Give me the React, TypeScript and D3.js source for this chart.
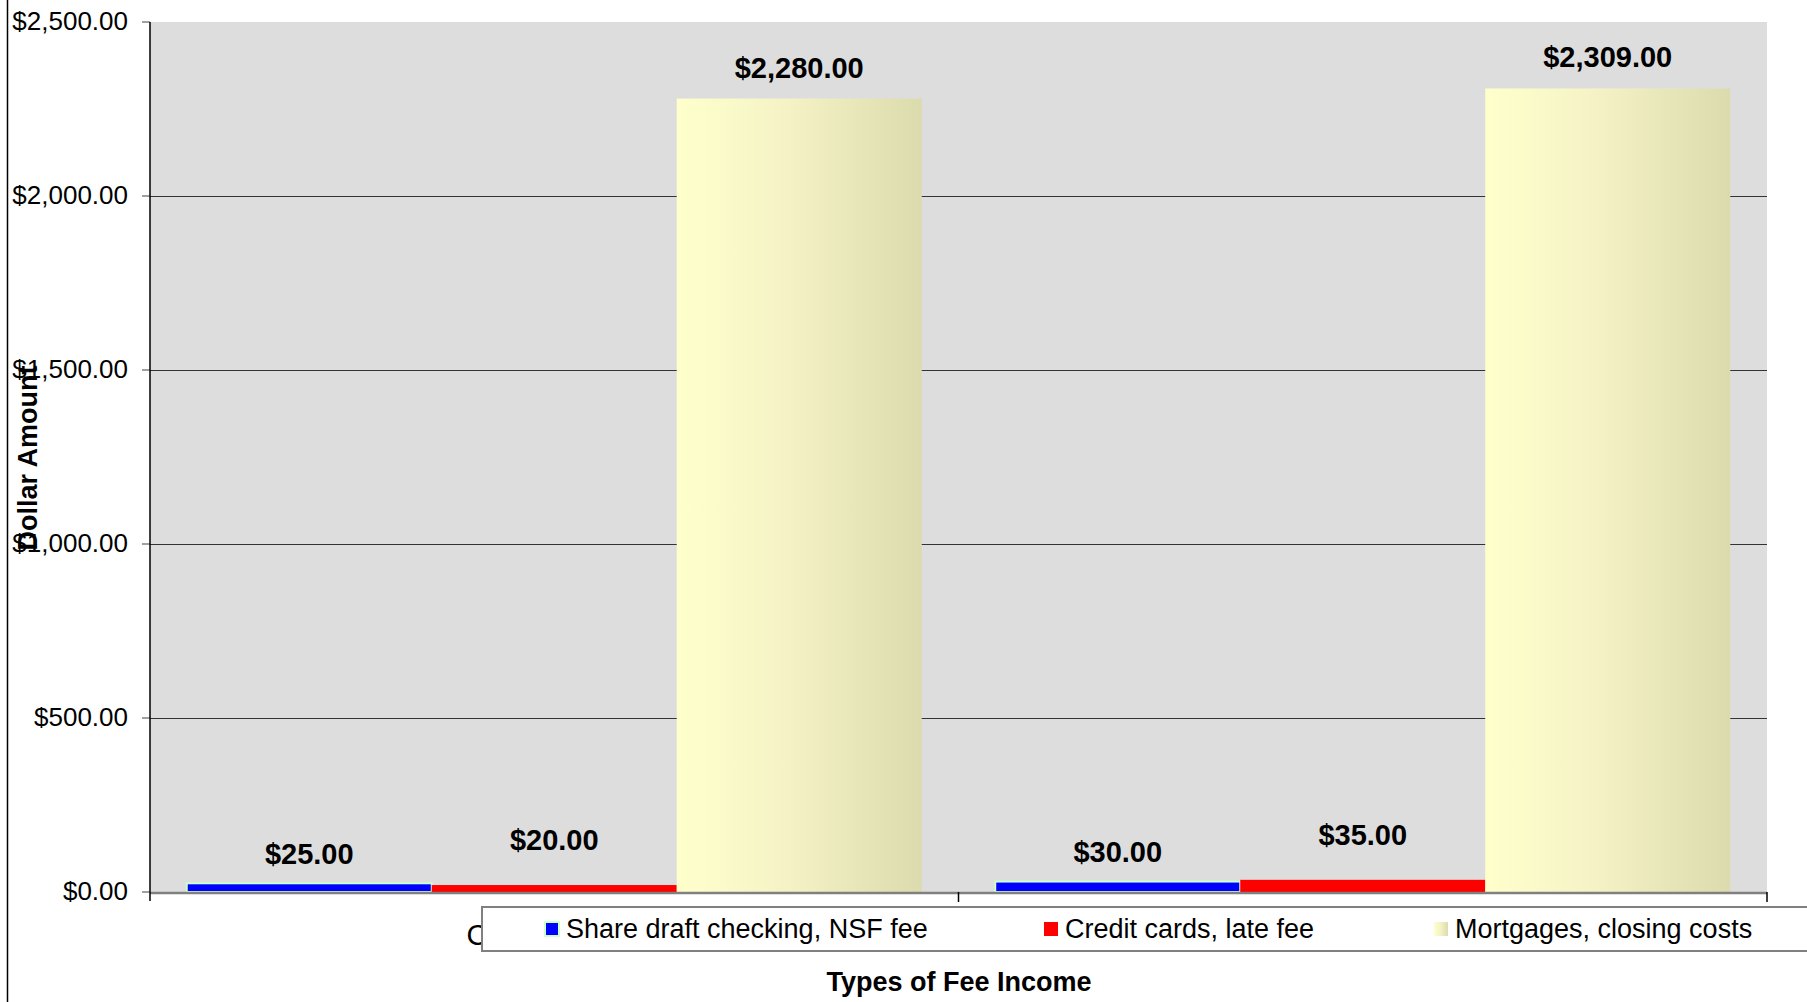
import React from "react";
import * as d3 from "d3";

const categories = ["Credit Unions", "Banks"];
const seriesNames = [
  "Share draft checking, NSF fee",
  "Credit cards, late fee",
  "Mortgages, closing costs",
];
const shareDraft = [25, 30];
const creditCards = [20, 35];
const mortgages = [2280, 2309];
const yTicks = [0, 500, 1000, 1500, 2000, 2500];

const W = 1807;
const H = 1002;
const M = { left: 150, right: 1767, top: 22, bottom: 892 };
const FONT = "'Liberation Sans', Arial, sans-serif";

const seriesStyle = [
  { fill: "#0000FF", stroke: "#CCFFCC", labelGap: 19.5 },
  { fill: "#FF0000", stroke: "none", labelGap: 35 },
  { fill: "url(#mortGrad)", stroke: "none", labelGap: 21 },
];

export default function App() {
  const seriesValues = [shareDraft, creditCards, mortgages];
  const y = d3.scaleLinear().domain([0, 2500]).range([M.bottom, M.top]);
  const x0 = d3.scaleBand<string>().domain(categories).range([M.left, M.right]).padding(0);
  const x1 = d3
    .scaleBand<string>()
    .domain(seriesNames)
    .range([0, x0.bandwidth()])
    .paddingInner(0)
    .paddingOuter(0.15);
  const fmt = d3.format("$,.2f");

  const legendX = [545, 1044, 1434];

  return (
    <svg
      width={W}
      height={H}
      style={{ position: "absolute", left: 0, top: 0, background: "#fff" }}
      fontFamily={FONT}
    >
      <defs>
        <linearGradient id="mortGrad" x1="0" y1="0" x2="1" y2="0">
          <stop offset="0" stopColor="#FFFFCC" />
          <stop offset="0.45" stopColor="#F5F3C6" />
          <stop offset="1" stopColor="#DCDBAE" />
        </linearGradient>
      </defs>

      {/* far-left border */}
      <line x1={7.5} x2={7.5} y1={0} y2={H} stroke="#000" strokeWidth={1.5} />

      {/* plot background */}
      <rect x={M.left} y={M.top} width={M.right - M.left} height={M.bottom - M.top} fill="#DDDDDD" />

      {/* gridlines */}
      {yTicks
        .filter((t) => t > 0 && t < 2500)
        .map((t) => (
          <line
            key={"g" + t}
            x1={M.left}
            x2={M.right}
            y1={Math.round(y(t)) + 0.5}
            y2={Math.round(y(t)) + 0.5}
            stroke="#333"
            strokeWidth={1}
          />
        ))}

      {/* y ticks and labels */}
      {yTicks.map((t) => (
        <g key={"t" + t}>
          <line x1={142} x2={M.left} y1={y(t)} y2={y(t)} stroke="#808080" strokeWidth={1.5} />
          <text x={128} y={y(t) + 8} textAnchor="end" fontSize={26} fill="#000">
            {fmt(t)}
          </text>
        </g>
      ))}

      {/* bars */}
      {categories.map((c, ci) =>
        seriesNames.map((s, si) => {
          const v = seriesValues[si][ci];
          const bx = (x0(c) as number) + (x1(s) as number);
          const bw = x1.bandwidth();
          const st = seriesStyle[si];
          return (
            <rect
              key={c + s}
              x={bx}
              y={y(v)}
              width={bw}
              height={y(0) - y(v)}
              fill={st.fill}
              stroke={st.stroke}
              strokeWidth={st.stroke === "none" ? 0 : 2}
            />
          );
        })
      )}

      {/* x axis line */}
      <line x1={M.left} x2={M.right} y1={M.bottom + 1} y2={M.bottom + 1} stroke="#808080" strokeWidth={2.5} />
      {/* y axis line */}
      <line x1={M.left} x2={M.left} y1={M.top} y2={901} stroke="#000" strokeWidth={1.5} />
      {/* category ticks */}
      {[M.left + x0.bandwidth(), M.right].map((tx, i) => (
        <line key={"ct" + i} x1={tx} x2={tx} y1={M.bottom} y2={902} stroke="#000" strokeWidth={1.5} />
      ))}

      {/* data labels */}
      {categories.map((c, ci) =>
        seriesNames.map((s, si) => {
          const v = seriesValues[si][ci];
          const cx = (x0(c) as number) + (x1(s) as number) + x1.bandwidth() / 2;
          return (
            <text
              key={"l" + c + s}
              x={cx}
              y={y(v) - seriesStyle[si].labelGap}
              textAnchor="middle"
              fontSize={29}
              fontWeight="bold"
              fill="#000"
            >
              {fmt(v)}
            </text>
          );
        })
      )}

      {/* category labels (mostly hidden behind legend) */}
      {categories.map((c) => (
        <text
          key={"c" + c}
          x={(x0(c) as number) + x0.bandwidth() / 2}
          y={945}
          textAnchor="middle"
          fontSize={29}
          fill="#000"
        >
          {c}
        </text>
      ))}

      {/* legend */}
      <rect x={482} y={907} width={1400} height={44} fill="#fff" stroke="#808080" strokeWidth={2} />
      {seriesNames.map((s, si) => (
        <g key={"lg" + s}>
          <rect
            x={legendX[si]}
            y={922}
            width={14}
            height={14}
            fill={seriesStyle[si].fill}
            stroke={si === 0 ? "#CCFFCC" : "none"}
            strokeWidth={si === 0 ? 2 : 0}
          />
          <text x={legendX[si] + 21} y={938} fontSize={27} fill="#000">
            {s}
          </text>
        </g>
      ))}

      {/* axis titles */}
      <text x={959} y={991} textAnchor="middle" fontSize={27} fontWeight="bold" fill="#000">
        Types of Fee Income
      </text>
      <text
        transform="translate(37,458) rotate(-90)"
        textAnchor="middle"
        fontSize={27}
        fontWeight="bold"
        fill="#000"
      >
        Dollar Amount
      </text>
    </svg>
  );
}
